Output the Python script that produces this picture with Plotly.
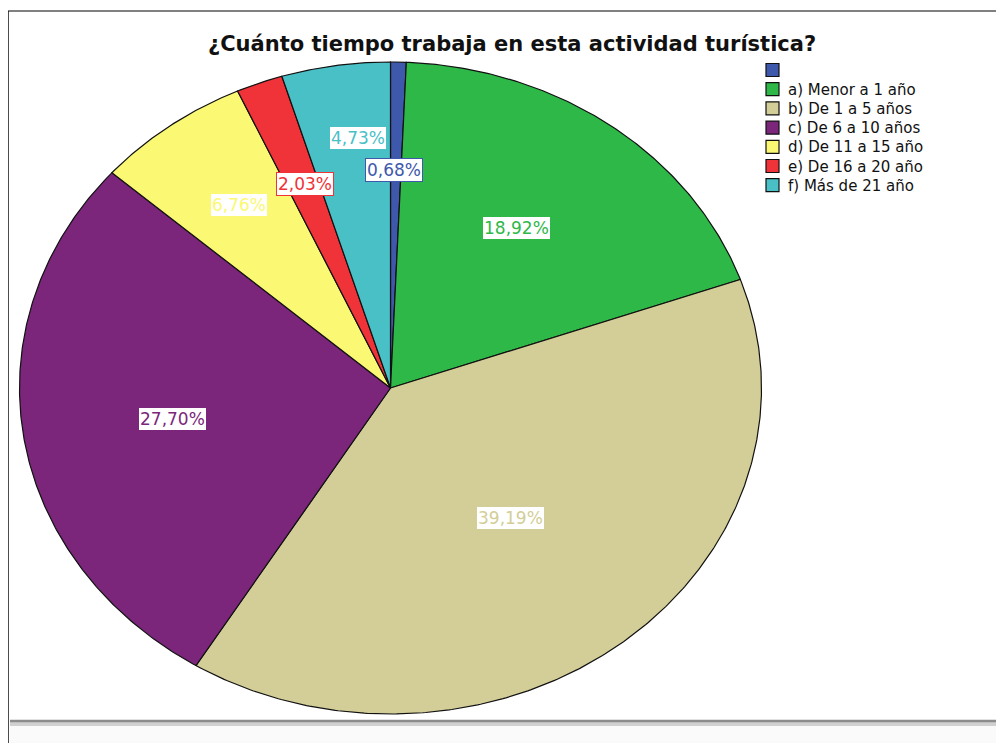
import numpy as np
import plotly.graph_objects as go

# ---- data ----
categories = ["", "a) Menor a 1 año", "b) De 1 a 5 años", "c) De 6 a 10 años",
              "d) De 11 a 15 año", "e) De 16 a 20 año", "f) Más de 21 año"]
percentages = [0.68, 18.92, 39.19, 27.70, 6.76, 2.03, 4.73]
title_text = "¿Cuánto tiempo trabaja en esta actividad turística?"

# ---- styles ----
colors = ["#3E58AC", "#2EB848", "#D3CE97", "#7B267B", "#FBF873", "#EF3338", "#48C0C6"]
# label placement as fractions of the horizontal / vertical radius along the slice bisector
label_rx = [0.44, 0.57, 0.513, 0.595, 0.686, 0.655, 0.59]
label_ry = [0.67, 0.61, 0.513, 0.64, 0.698, 0.669, 0.776]

# page body has an 8px margin; work in screen pixel coordinates
OFF = 8
FW, FH = 988, 735
cx, cy, a, b = 390.5, 388, 371, 326


def px(sx):
    return (sx - OFF) / FW


def py(sy):
    return 1 - (sy - OFF) / FH


fig = go.Figure()
total = sum(percentages)
cum = 0.0
annotations = []
for cat, val, col, rx, ry in zip(categories, percentages, colors, label_rx, label_ry):
    t0 = cum / total * 2 * np.pi
    t1 = (cum + val) / total * 2 * np.pi
    ts = np.linspace(t0, t1, max(4, int(val * 8)))
    xs = np.concatenate([[cx], cx + a * np.sin(ts), [cx]])
    ys = np.concatenate([[cy], cy - b * np.cos(ts), [cy]])
    fig.add_trace(go.Scatter(x=xs, y=ys, mode="lines", fill="toself", name=cat,
                             fillcolor=col, line=dict(color="#111111", width=1.2),
                             showlegend=False, hoverinfo="skip"))
    tm = (t0 + t1) / 2
    annotations.append(dict(
        x=cx + rx * a * np.sin(tm), y=cy - ry * b * np.cos(tm),
        xref="x", yref="y", showarrow=False,
        text=f"{val:.2f}".replace(".", ",") + "%",
        font=dict(family="DejaVu Sans", size=17, color=col),
        bgcolor="white", bordercolor=col, borderwidth=1, borderpad=1))
    cum += val

# legend (square swatches + labels)
shapes = []
leg_x, leg_y0, leg_dy, sw = 766, 70, 19.2, 13
for i, (cat, col) in enumerate(zip(categories, colors)):
    yc = leg_y0 + i * leg_dy
    shapes.append(dict(type="rect", xref="x", yref="y", x0=leg_x, x1=leg_x + sw,
                       y0=yc - sw / 2, y1=yc + sw / 2, fillcolor=col,
                       line=dict(color="#111111", width=1.2)))
    if cat:
        annotations.append(dict(x=leg_x + sw + 7, y=yc + 0.5, xref="x", yref="y",
                                xanchor="left", yanchor="middle", showarrow=False,
                                text=cat,
                                font=dict(family="DejaVu Sans", size=15, color="#111111")))

annotations.append(dict(x=px(512), y=py(44), xref="paper", yref="paper",
                        xanchor="center", yanchor="middle",
                        showarrow=False, text="<b>" + title_text + "</b>",
                        font=dict(family="DejaVu Sans", size=21, color="#111111")))

shapes += [
    dict(type="line", xref="x", yref="y", x0=8, x1=1004, y0=11, y1=11,
         line=dict(color="#808080", width=2)),
    dict(type="line", xref="x", yref="y", x0=8, x1=8, y0=11, y1=751,
         line=dict(color="#111111", width=1.5)),
    dict(type="rect", xref="x", yref="y", x0=10, x1=1004, y0=724, y1=751,
         line=dict(width=0), fillcolor="#FAFAFA"),
    dict(type="line", xref="x", yref="y", x0=10, x1=1004, y0=723.5, y1=723.5,
         line=dict(color="#D0D0D0", width=5)),
    dict(type="line", xref="x", yref="y", x0=10, x1=1004, y0=721, y1=721,
         line=dict(color="#8C8C8C", width=2.5)),
]

fig.update_layout(
    width=FW, height=FH, margin=dict(l=0, r=0, t=0, b=0),
    paper_bgcolor="white", plot_bgcolor="white", showlegend=False,
    xaxis=dict(range=[OFF, OFF + FW], visible=False, fixedrange=True),
    yaxis=dict(range=[OFF + FH, OFF], visible=False, fixedrange=True),
    annotations=annotations, shapes=shapes,
)
fig.write_html("out.html")
